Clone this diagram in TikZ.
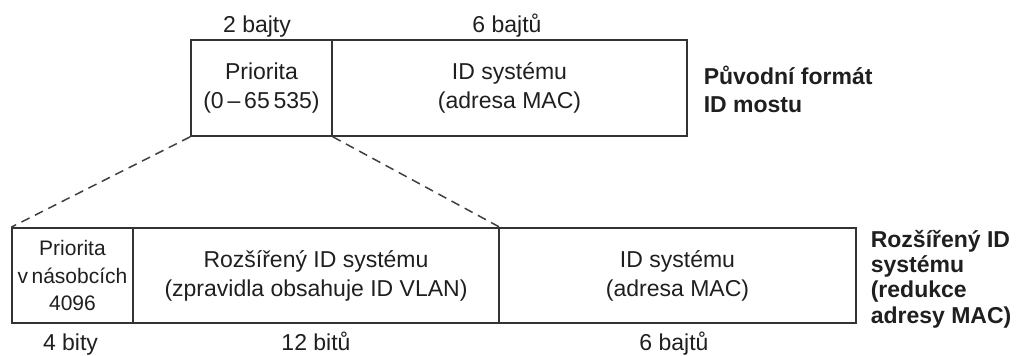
\documentclass[tikz,border=0pt]{standalone}
\usepackage{fontspec}
\setmainfont{Liberation Sans}
\begin{document}
\begin{tikzpicture}[x=1pt,y=-1pt,
  line width=1.6pt,
  every node/.style={text=black!88},
  cell/.style={draw=black!80, line width=1.6pt, inner sep=0pt, align=center,
    font=\fontsize{23}{29}\selectfont},
  smallcell/.style={cell, font=\fontsize{21}{27.5}\selectfont},
  sizelbl/.style={anchor=base, inner sep=0pt, font=\fontsize{23}{28}\selectfont},
  sidelbl/.style={anchor=west, inner sep=0pt, align=left},
  zoomline/.style={draw=black!75, line width=1.5pt, dash pattern=on 9pt off 6pt}
]
\useasboundingbox (0,0) rectangle (1020,356);

% top: original bridge ID
\node[cell, minimum width=141pt, minimum height=96pt] (pri) at (261.5,88)
  {Priorita\\(0\,–\,65\,535)};
\node[cell, minimum width=355pt, minimum height=96pt] (sys) at (509.5,88)
  {ID systému\\(adresa MAC)};

\node[sizelbl] (b2) at (257,32) {2 bajty};
\node[sizelbl] (b6) at (507,32) {6 bajtů};

\node[sidelbl, font=\fontsize{23}{28}\selectfont\bfseries] (orig) at (703,89)
  {Původní formát\\ID mostu};

% bottom: extended system ID
\node[smallcell, minimum width=121pt, minimum height=95pt] (bpri) at (72.5,275.5)
  {Priorita\\v\,násobcích\\4096};
\node[cell, minimum width=366pt, minimum height=95pt] (ext) at (316,275.5)
  {Rozšířený ID systému\\(zpravidla obsahuje ID VLAN)};
\node[cell, minimum width=357pt, minimum height=95pt] (bsys) at (677.5,275.5)
  {ID systému\\(adresa MAC)};

\node[sizelbl] (l4) at (70.5,350) {4 bity};
\node[sizelbl] (l12) at (316,350) {12 bitů};
\node[sizelbl] (l6) at (674,350) {6 bajtů};

\node[sidelbl, font=\fontsize{23}{25.3}\selectfont\bfseries] (ext2) at (870,279)
  {Rozšířený ID\\systému\\(redukce\\adresy MAC)};

% zoom lines
\draw[zoomline] (pri.south west) -- (bpri.north west);
\draw[zoomline] (pri.south east) -- (ext.north east);
\end{tikzpicture}
\end{document}
